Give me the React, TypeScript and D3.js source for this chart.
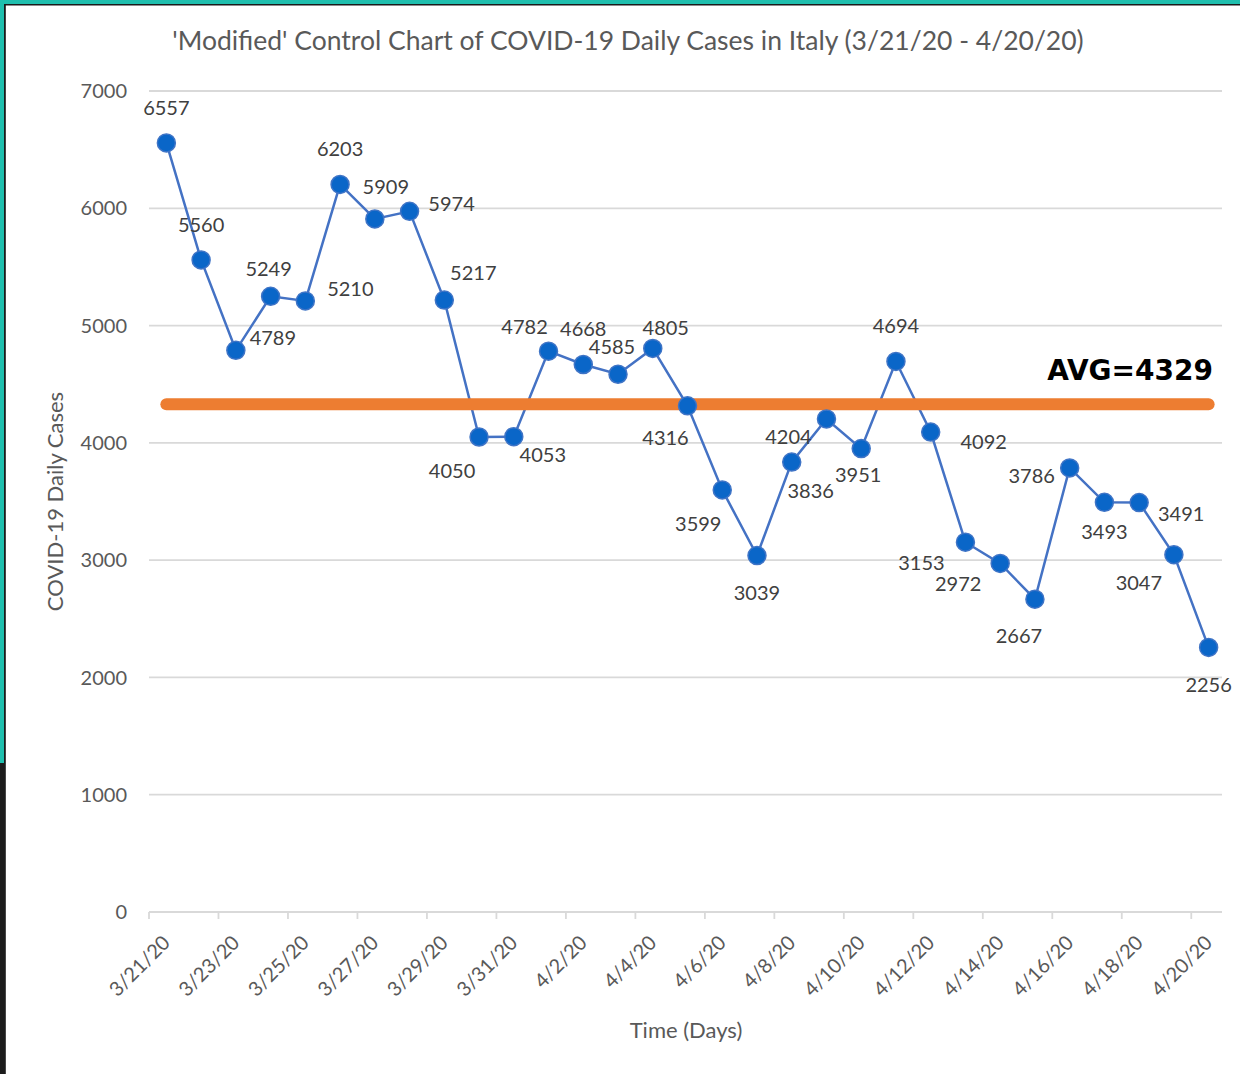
import React from 'react';
import * as d3 from 'd3';

const dates = [
  '3/21/20', '3/22/20', '3/23/20', '3/24/20', '3/25/20', '3/26/20', '3/27/20', '3/28/20',
  '3/29/20', '3/30/20', '3/31/20', '4/1/20', '4/2/20', '4/3/20', '4/4/20', '4/5/20',
  '4/6/20', '4/7/20', '4/8/20', '4/9/20', '4/10/20', '4/11/20', '4/12/20', '4/13/20',
  '4/14/20', '4/15/20', '4/16/20', '4/17/20', '4/18/20', '4/19/20', '4/20/20',
];

const dailyCases = [
  6557, 5560, 4789, 5249, 5210, 6203, 5909, 5974,
  5217, 4050, 4053, 4782, 4668, 4585, 4805, 4316,
  3599, 3039, 3836, 4204, 3951, 4694, 4092, 3153,
  2972, 2667, 3786, 3493, 3491, 3047, 2256,
];

const average = 4329;
const yTicks = [0, 1000, 2000, 3000, 4000, 5000, 6000, 7000];

const title = "'Modified' Control Chart of COVID-19 Daily Cases in Italy (3/21/20 - 4/20/20)";

// where each data label sits relative to its marker (Excel put them by hand)
const labelShift: [number, number][] = [
  [0, -35], [0, -35], [37, -13], [-2, -28], [45, -12], [0, -36], [11, -32], [42, -8],
  [29, -27], [-27, 34], [29, 18], [-24, -24], [0, -36], [-6, -27], [13, -21], [-22, 32],
  [-24, 34], [0, 37], [19, 29], [-38, 18], [-3, 26], [0, -36], [53, 10], [-44, 21],
  [-42, 20], [-16, 37], [-38, 8], [0, 29], [42, 11], [-35, 28], [0, 37],
];

const font = 'Lato, "Open Sans", sans-serif';

const App = () => {
  const width = 1240;
  const height = 1074;

  const x = d3.scaleBand<string>().domain(dates).range([149, 1226]).padding(0);
  const y = d3.scaleLinear().domain([0, 7000]).range([912, 91]);
  const cx = (d: string) => (x(d) ?? 0) + x.bandwidth() / 2;

  const line = d3.line<number>()
    .x((_, i) => cx(dates[i]))
    .y(d => y(d));

  const tickDates = dates.filter((_, i) => i % 2 === 0);

  return (
    <svg width={width} height={height} style={{ display: 'block', background: '#fff' }}>
      <style>{'body{margin:0}'}</style>

      {/* frame */}
      <rect x={0} y={0} width={width} height={4} fill="#1fbfae" />
      <rect x={0} y={4} width={width} height={1.5} fill="#1a1a1a" />
      <rect x={0} y={0} width={4} height={763} fill="#1fbfae" />
      <rect x={4} y={4} width={1.8} height={759} fill="#1a1a1a" />
      <rect x={0} y={763} width={5.8} height={height - 763} fill="#1c1c1c" />

      <text x={628} y={50} textAnchor="middle" fontFamily={font} fontSize={26.5} fill="#595959">
        {title}
      </text>

      {/* gridlines + y labels */}
      {yTicks.map(t => (
        <g key={t}>
          <line x1={149} x2={1222} y1={y(t)} y2={y(t)} stroke="#d9d9d9" strokeWidth={1.8} />
          <text x={127} y={y(t)} dy="0.36em" textAnchor="end" fontFamily={font} fontSize={20} fill="#595959">
            {t}
          </text>
        </g>
      ))}

      {/* x ticks */}
      {tickDates.map(d => (
        <line key={'t' + d} x1={x(d)} x2={x(d)} y1={y(0)} y2={y(0) + 7} stroke="#d9d9d9" strokeWidth={1.8} />
      ))}
      {tickDates.map(d => (
        <text
          key={'l' + d}
          transform={`translate(${cx(d)},${y(0) + 27}) rotate(-45)`}
          textAnchor="end"
          dy="0.35em"
          fontFamily={font}
          fontSize={20}
          fill="#595959"
        >
          {d}
        </text>
      ))}

      <text x={686} y={1038} textAnchor="middle" fontFamily={font} fontSize={22} fill="#595959">
        Time (Days)
      </text>
      <text
        transform={`translate(63,${(y(0) + y(7000)) / 2}) rotate(-90)`}
        textAnchor="middle"
        fontFamily={font}
        fontSize={22}
        fill="#595959"
      >
        COVID-19 Daily Cases
      </text>

      {/* series */}
      <path d={line(dailyCases) ?? ''} fill="none" stroke="#4472c4" strokeWidth={2.5} />

      <line
        x1={cx(dates[0])}
        x2={cx(dates[dates.length - 1])}
        y1={y(average)}
        y2={y(average)}
        stroke="#ed7d31"
        strokeWidth={12}
        strokeLinecap="round"
      />
      <text x={1213} y={380} textAnchor="end" fontFamily='"DejaVu Sans", sans-serif' fontWeight="bold" fontSize={28} fill="#000">
        AVG={average}
      </text>

      {dailyCases.map((v, i) => (
        <circle key={'c' + i} cx={cx(dates[i])} cy={y(v)} r={9} fill="#0a66c8" stroke="#3f74c6" strokeWidth={1.5} />
      ))}

      {dailyCases.map((v, i) => (
        <text
          key={'v' + i}
          x={cx(dates[i]) + labelShift[i][0]}
          y={y(v) + labelShift[i][1]}
          dy="0.36em"
          textAnchor="middle"
          fontFamily={font}
          fontSize={20}
          fill="#404040"
        >
          {v}
        </text>
      ))}
    </svg>
  );
};

export default App;
